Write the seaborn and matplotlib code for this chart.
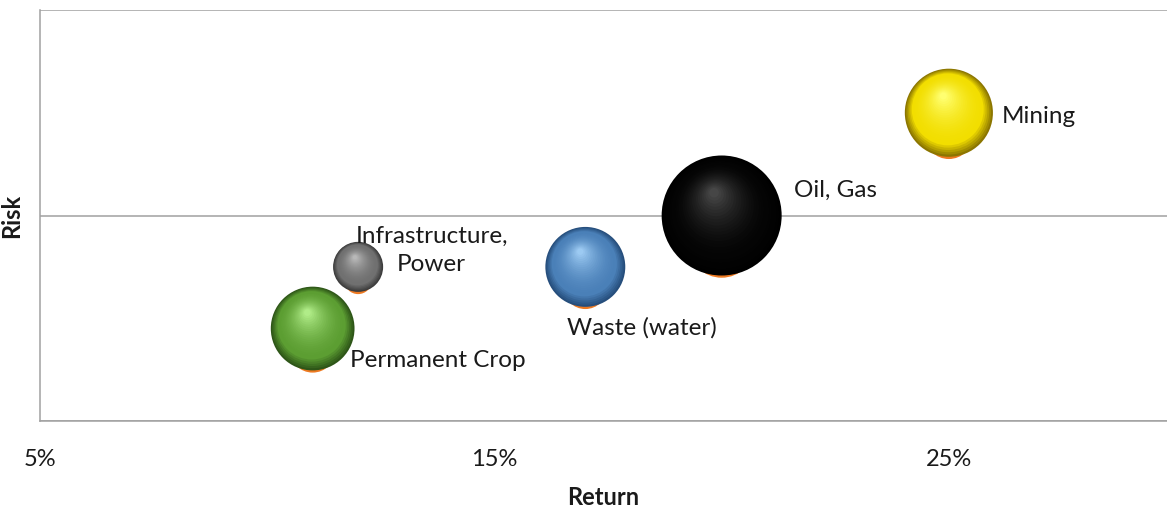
import matplotlib
matplotlib.use("Agg")
import numpy as np
import pandas as pd
import matplotlib.pyplot as plt
import matplotlib.transforms as mtransforms
from matplotlib.colors import to_rgb
import seaborn as sns

# data
sectors = ["Permanent Crop", "Infrastructure,\nPower", "Waste (water)", "Oil, Gas", "Mining"]
returns = [11, 12, 17, 20, 25]          # %
risk = [0.45, 0.75, 0.75, 1.0, 1.5]
bubble_size = [2.8, 1.0, 2.55, 5.75, 3.1]
x_ticks = [5, 15, 25]
x_tick_labels = ["5%", "15%", "25%"]

# sphere colours: rim, body, highlight
edge_cols = ["#2e5618", "#3c3c3c", "#264e7c", "#000000", "#8c7600"]
mid_cols = ["#5c9e32", "#707070", "#4a80b8", "#040404", "#f2de00"]
light_cols = ["#b0ec88", "#b8b8b8", "#9ccaf2", "#464646", "#ffff70"]

# label offsets in points (dx, dy, ha)
label_pos = [(27, -23, "left"), (53, 12, "center"), (41, -44, "center"),
             (52, 18, "left"), (38, -3, "left")]

df = pd.DataFrame({"sector": sectors, "ret": returns, "risk": risk, "size": bubble_size})

sns.set_style("white")
plt.rcParams["font.family"] = ["Lato", "DejaVu Sans"]

fig = plt.figure(figsize=(11.67, 5.12), dpi=100)
ax = fig.add_axes([40 / 1167, 1 - 421 / 512, 1 - 40 / 1167, 411 / 512])

SMAX = 7465
vmax = max(bubble_size)

# sphere body
sns.scatterplot(data=df, x="ret", y="risk", size="size", sizes=(0, SMAX), size_norm=(0, vmax),
                hue="sector", palette=edge_cols, edgecolor="none", legend=False, ax=ax, zorder=4)

n_layers = 26
for i, row in df.iterrows():
    s0 = row["size"] / vmax * SMAX
    r = np.sqrt(s0) / 2
    # orange reflection peeking out under the sphere
    tr_o = mtransforms.offset_copy(ax.transData, fig=fig, x=0, y=-(0.45 * r + 1.6), units="points")
    sns.scatterplot(x=[row["ret"]], y=[row["risk"]], s=s0 * 0.55 ** 2, color="#ee7a22",
                    edgecolor="none", legend=False, ax=ax, transform=tr_o, zorder=3)
    # radial shading towards an upper-left highlight
    c_edge, c_mid, c_hi = np.array(to_rgb(edge_cols[i])), np.array(to_rgb(mid_cols[i])), np.array(to_rgb(light_cols[i]))
    for k in range(1, n_layers):
        t = k / (n_layers - 1)
        f = 1 - 0.92 * t
        if t < 0.2:
            col = c_edge + (c_mid - c_edge) * (t / 0.2)
        else:
            col = c_mid + (c_hi - c_mid) * ((t - 0.2) / 0.8) ** 1.8
        d = (1 - f) * r * 0.55
        tr = mtransforms.offset_copy(ax.transData, fig=fig, x=-0.25 * d, y=0.75 * d, units="points")
        sns.scatterplot(x=[row["ret"]], y=[row["risk"]], s=s0 * f * f, color=tuple(np.clip(col, 0, 1)),
                        edgecolor="none", linewidth=0, legend=False, ax=ax, transform=tr, zorder=5)

for i, row in df.iterrows():
    dx, dy, ha = label_pos[i]
    ax.annotate(row["sector"], (row["ret"], row["risk"]), xytext=(dx, dy), textcoords="offset points",
                ha=ha, va="center", multialignment="center", linespacing=1.45,
                fontsize=17.5, color="#1a1a1a", zorder=6)

ax.set_xlim(5, 29.8)
ax.set_ylim(0, 2)
ax.set_xticks(x_ticks)
ax.set_xticklabels(x_tick_labels)
ax.set_yticks([0, 1, 2])
ax.set_yticklabels([])
ax.yaxis.grid(True, color="#a0a0a0", linewidth=1.1)
ax.xaxis.grid(False)
ax.set_axisbelow(True)
for side in ["top", "right"]:
    ax.spines[side].set_visible(False)
for side in ["left", "bottom"]:
    ax.spines[side].set_color("#a0a0a0")
    ax.spines[side].set_linewidth(1.1)
ax.tick_params(axis="both", direction="out", length=6.5, width=1, color="#a0a0a0",
               labelsize=17, labelcolor="#1a1a1a")
ax.tick_params(axis="x", pad=14)
ax.set_xlabel("Return", fontsize=17, fontweight="bold", labelpad=11, color="#1a1a1a")
ax.set_ylabel("Risk", fontsize=17, fontweight="bold", labelpad=2, color="#1a1a1a")

fig.savefig("out.png", dpi=100, facecolor="white")
